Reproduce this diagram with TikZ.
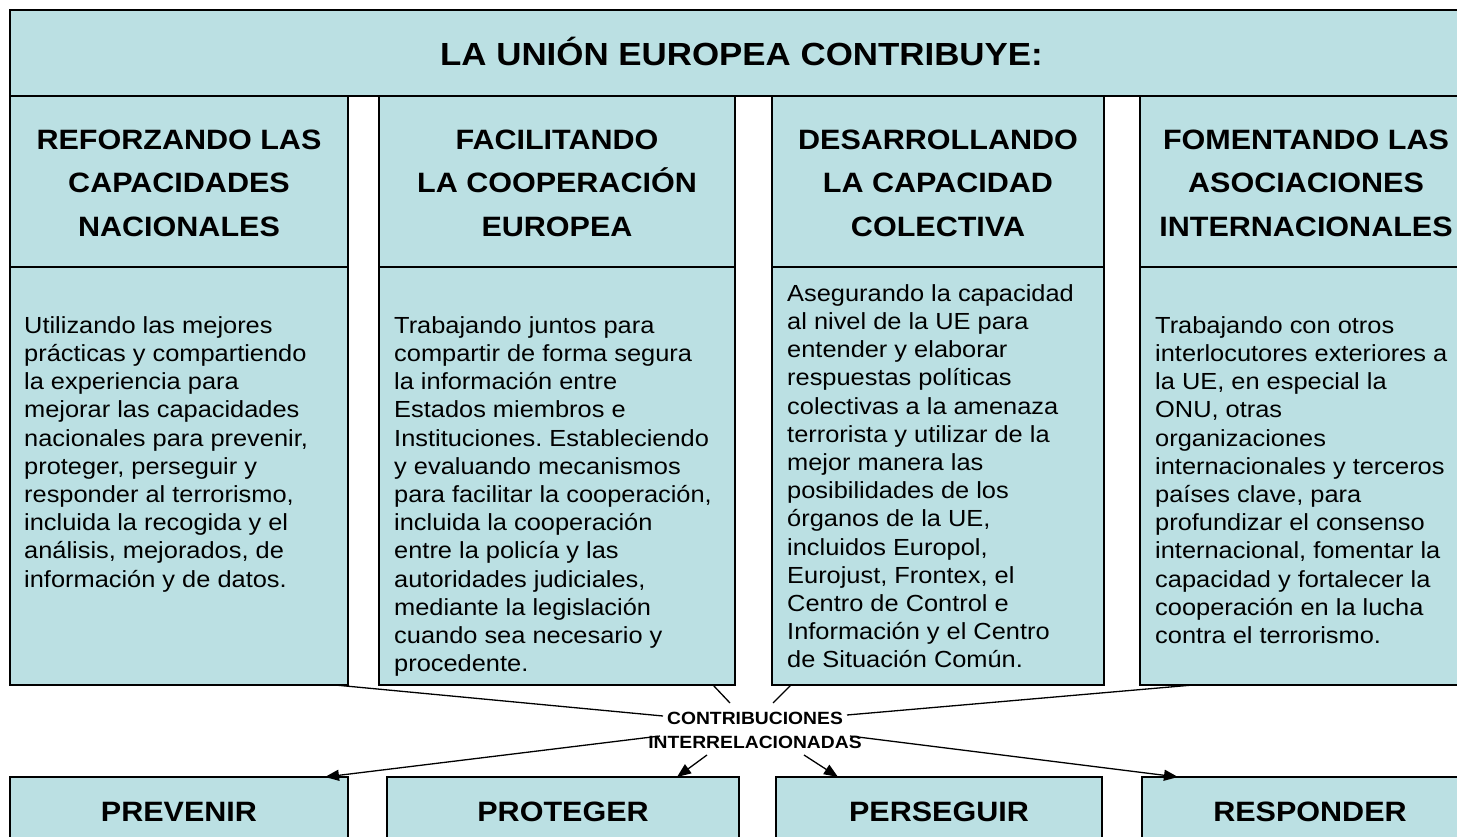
\documentclass[tikz,border=0pt]{standalone}
\usepackage{fontspec}
\setmainfont{Liberation Sans}[FakeStretch=1.09]
\usetikzlibrary{arrows.meta}
\definecolor{boxfill}{RGB}{187,224,227}
\frenchspacing
\tikzset{
  box/.style={draw=black, line width=1.6pt, fill=boxfill, anchor=north west, inner sep=0pt, outer sep=0pt},
  hdrtext/.style={font=\fontsize{28}{43.5}\selectfont\bfseries, align=center, anchor=north, inner sep=0pt},
  bodytext/.style={font=\fontsize{23.3}{28.2}\selectfont, align=left, anchor=north west, inner sep=0pt},
  bottext/.style={font=\fontsize{28}{34}\selectfont\bfseries, anchor=base, inner sep=0pt},
  conn/.style={line width=1.3pt},
  arr/.style={conn, -{Triangle[length=14pt,width=11pt]}},
}
\begin{document}
\begin{tikzpicture}[x=1pt,y=-1pt]
\path[use as bounding box, fill=white] (0,0) rectangle (1457,837);
\clip (0,0) rectangle (1457,837);
% title box
\node[box, minimum width=1462, minimum height=86] (top) at (10,10) {};
\node[font=\fontsize{32}{38}\selectfont\bfseries, anchor=base, inner sep=0pt] (title) at (741.5,66) {LA UNIÓN EUROPEA CONTRIBUYE:};
% header boxes
\node[box, minimum width=338, minimum height=171] (h1) at (10,96) {};
\node[box, minimum width=356, minimum height=171] (h2) at (379,96) {};
\node[box, minimum width=332, minimum height=171] (h3) at (772,96) {};
\node[box, minimum width=332, minimum height=171] (h4) at (1140,96) {};
% body boxes
\node[box, minimum width=338, minimum height=418] (b1) at (10,267) {};
\node[box, minimum width=356, minimum height=418] (b2) at (379,267) {};
\node[box, minimum width=332, minimum height=418] (b3) at (772,267) {};
\node[box, minimum width=332, minimum height=418] (b4) at (1140,267) {};
% header texts
\node[hdrtext] (t1) at (179,125) {\rule{0pt}{24pt}REFORZANDO LAS\\CAPACIDADES\\NACIONALES};
\node[hdrtext] (t2) at (557,125) {\rule{0pt}{24pt}FACILITANDO\\LA COOPERACIÓN\\EUROPEA};
\node[hdrtext] (t3) at (938,125) {\rule{0pt}{24pt}DESARROLLANDO\\LA CAPACIDAD\\COLECTIVA};
\node[hdrtext] (t4) at (1306,125) {\rule{0pt}{24pt}FOMENTANDO LAS\\ASOCIACIONES\\INTERNACIONALES};
% body texts
\node[bodytext] (d1) at (24,313) {\rule{0pt}{20pt}Utilizando las mejores\\prácticas y compartiendo\\la experiencia para\\mejorar las capacidades\\nacionales para prevenir,\\proteger, perseguir y\\responder al terrorismo,\\incluida la recogida y el\\análisis, mejorados, de\\información y de datos.};
\node[bodytext] (d2) at (394,313) {\rule{0pt}{20pt}Trabajando juntos para\\compartir de forma segura\\la información entre\\Estados miembros e\\Instituciones. Estableciendo\\y evaluando mecanismos\\para facilitar la cooperación,\\incluida la cooperación\\entre la policía y las\\autoridades judiciales,\\mediante la legislación\\cuando sea necesario y\\procedente.};
\node[bodytext] (d3) at (787,281) {\rule{0pt}{20pt}Asegurando la capacidad\\al nivel de la UE para\\entender y elaborar\\respuestas políticas\\colectivas a la amenaza\\terrorista y utilizar de la\\mejor manera las\\posibilidades de los\\órganos de la UE,\\incluidos Europol,\\Eurojust, Frontex, el\\Centro de Control e\\Información y el Centro\\de Situación Común.};
\node[bodytext] (d4) at (1155,313) {\rule{0pt}{20pt}Trabajando con otros\\interlocutores exteriores a\\la UE, en especial la\\ONU, otras\\organizaciones\\internacionales y terceros\\países clave, para\\profundizar el consenso\\internacional, fomentar la\\capacidad y fortalecer la\\cooperación en la lucha\\contra el terrorismo.};
% bottom boxes
\node[box, minimum width=338, minimum height=100] (p1) at (10,777) {};
\node[box, minimum width=352, minimum height=100] (p2) at (387,777) {};
\node[box, minimum width=326, minimum height=100] (p3) at (776,777) {};
\node[box, minimum width=336, minimum height=100] (p4) at (1142,777) {};
\node[bottext] (n1) at (179,821) {PREVENIR};
\node[bottext] (n2) at (563,821) {PROTEGER};
\node[bottext] (n3) at (939,821) {PERSEGUIR};
\node[bottext] (n4) at (1310,821) {RESPONDER};
% central label
\node[font=\fontsize{17.7}{24}\selectfont\bfseries, align=center, anchor=north, inner sep=0pt] (lab) at (755,708) {\rule{0pt}{16pt}CONTRIBUCIONES\\INTERRELACIONADAS};
\coordinate (e1) at (663,716);
\coordinate (e2) at (730,703);
\coordinate (e3) at (773,703);
\coordinate (e4) at (847,715);
\coordinate (f1) at (660,736);
\coordinate (f2) at (707,755);
\coordinate (f3) at (804,755);
\coordinate (f4) at (850,736);
% connectors
\draw[conn] ([xshift=-13pt]b1.south east) -- (e1);
\draw[conn] ([xshift=-22pt]b2.south east) -- (e2);
\draw[conn] ([xshift=19pt]b3.south west) -- (e3);
\draw[conn] ([xshift=53pt]b4.south west) -- (e4);
\draw[arr] (f1) -- ([xshift=-23pt]p1.north east);
\draw[arr] (f2) -- ([xshift=-62pt]p2.north east);
\draw[arr] (f3) -- ([xshift=62pt]p3.north west);
\draw[arr] (f4) -- ([xshift=36pt]p4.north west);
\end{tikzpicture}
\end{document}
